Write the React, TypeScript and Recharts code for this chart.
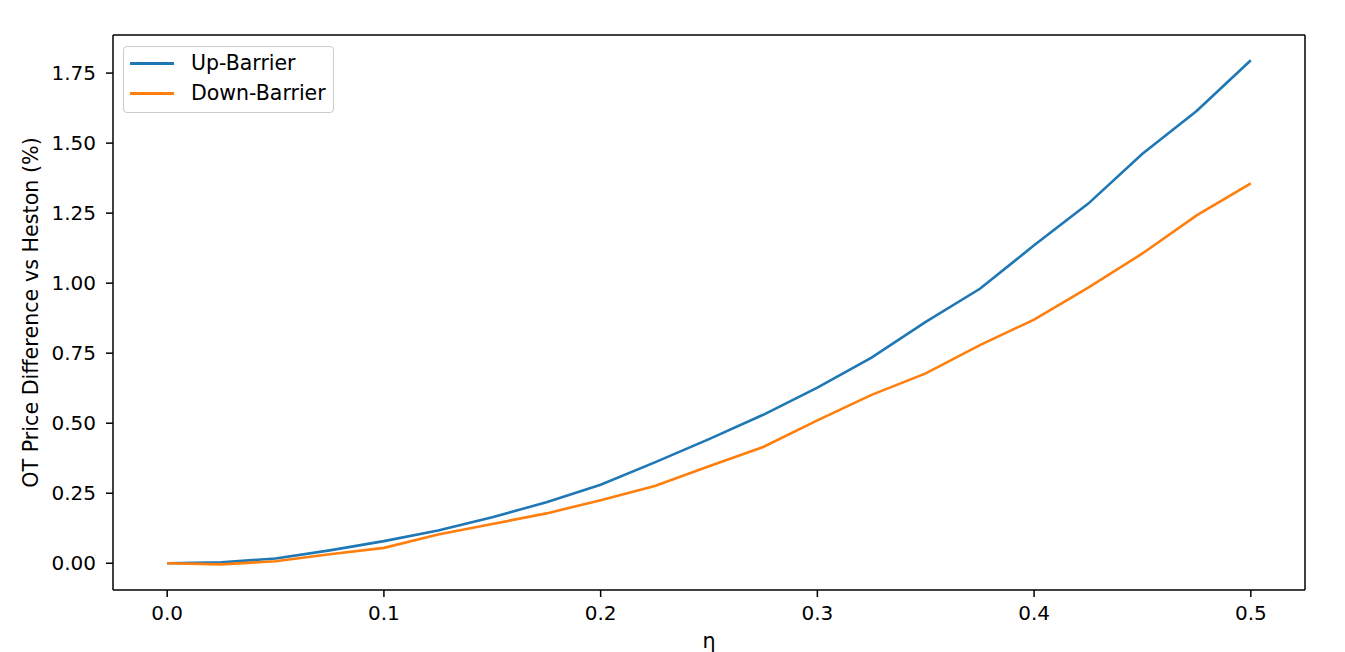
import React from "react";
import {
  LineChart,
  Line,
  XAxis,
  YAxis,
  Legend,
  ReferenceLine,
} from "recharts";

const eta = [
  0, 0.025, 0.05, 0.075, 0.1, 0.125, 0.15, 0.175, 0.2, 0.225, 0.25, 0.275,
  0.3, 0.325, 0.35, 0.375, 0.4, 0.425, 0.45, 0.475, 0.5,
];

const upBarrier = [
  0, 0.003, 0.017, 0.046, 0.079, 0.117, 0.164, 0.218, 0.28, 0.36, 0.443, 0.53,
  0.627, 0.734, 0.862, 0.98, 1.135, 1.284, 1.462, 1.615, 1.796,
];

const downBarrier = [
  0, -0.004, 0.007, 0.032, 0.055, 0.103, 0.14, 0.178, 0.225, 0.276, 0.346,
  0.415, 0.51, 0.601, 0.678, 0.779, 0.87, 0.984, 1.106, 1.242, 1.356,
];

const xTicks = [0, 0.1, 0.2, 0.3, 0.4, 0.5];
const yTicks = [0, 0.25, 0.5, 0.75, 1.0, 1.25, 1.5, 1.75];

const SERIES = [
  { key: "up", name: "Up-Barrier", color: "#1f77b4" },
  { key: "down", name: "Down-Barrier", color: "#ff7f0e" },
];

const FONT = "'DejaVu Sans', sans-serif";
const TICK_SIZE = 20;
const LABEL_SIZE = 20.7;
const X_DOMAIN: [number, number] = [-0.025, 0.525];
const Y_DOMAIN: [number, number] = [-0.0955, 1.886];

const chartData = eta.map((x, i) => ({
  eta: x,
  up: upBarrier[i],
  down: downBarrier[i],
}));

const tickStyle = { fill: "#000", fontSize: TICK_SIZE, fontFamily: FONT };
const labelStyle = { fill: "#000", fontSize: LABEL_SIZE, fontFamily: FONT };

// matplotlib-style legend box
const LegendBox = () => (
  <div
    style={{
      width: 211,
      boxSizing: "border-box",
      border: "1px solid #cccccc",
      borderRadius: 4,
      background: "rgba(255,255,255,0.8)",
      padding: "1px 6px 4px 6px",
      fontFamily: FONT,
      fontSize: 20.5,
      color: "#000",
      whiteSpace: "nowrap",
    }}
  >
    {SERIES.map((s) => (
      <div
        key={s.key}
        style={{ height: 30, display: "flex", alignItems: "center" }}
      >
        <div
          style={{ width: 44, height: 3, background: s.color, marginRight: 17 }}
        />
        <span>{s.name}</span>
      </div>
    ))}
  </div>
);

export default function App() {
  return (
    <div style={{ position: "absolute", left: 0, top: 0, background: "#fff" }}>
      <LineChart
        width={1345}
        height={652}
        data={chartData}
        margin={{ top: 35, right: 40, bottom: 0, left: 0 }}
      >
        <XAxis
          dataKey="eta"
          type="number"
          domain={X_DOMAIN}
          ticks={xTicks}
          allowDataOverflow
          height={62}
          tickSize={7}
          tickMargin={9}
          tick={tickStyle}
          stroke="#000"
          strokeWidth={1.5}
          tickFormatter={(v: number) => v.toFixed(1)}
          label={{
            value: "η",
            position: "insideBottom",
            offset: 4,
            style: labelStyle,
          }}
        />
        <YAxis
          type="number"
          domain={Y_DOMAIN}
          ticks={yTicks}
          allowDataOverflow
          width={113}
          tickSize={7}
          tickMargin={10}
          tick={tickStyle}
          stroke="#000"
          strokeWidth={1.5}
          tickFormatter={(v: number) => v.toFixed(2)}
          label={{
            value: "OT Price Difference vs Heston (%)",
            angle: -90,
            position: "insideLeft",
            offset: 31,
            style: { ...labelStyle, textAnchor: "middle" },
          }}
        />
        {/* top and right spines */}
        <ReferenceLine y={Y_DOMAIN[1]} stroke="#000" strokeWidth={1.5} />
        <ReferenceLine x={X_DOMAIN[1]} stroke="#000" strokeWidth={1.5} />
        <Legend
          layout="vertical"
          align="center"
          verticalAlign="middle"
          wrapperStyle={{ left: 123, top: 46, width: 211 }}
          content={() => <LegendBox />}
        />
        {SERIES.map((s) => (
          <Line
            key={s.key}
            type="linear"
            dataKey={s.key}
            name={s.name}
            stroke={s.color}
            strokeWidth={2.6}
            dot={false}
            isAnimationActive={false}
          />
        ))}
      </LineChart>
    </div>
  );
}
